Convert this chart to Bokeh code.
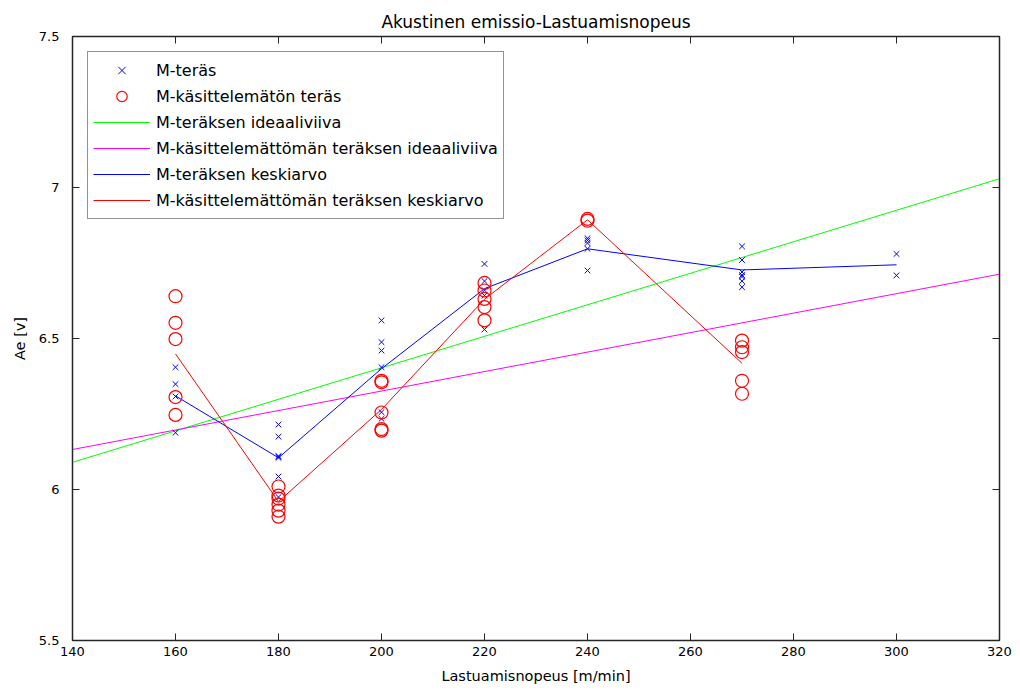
from bokeh.plotting import figure
from bokeh.models import Range1d, LinearAxis, FixedTicker, Legend, LegendItem, ColumnDataSource
from bokeh.embed import file_html
from bokeh.resources import INLINE

# ---- data ----
speeds = [160, 180, 200, 220, 240, 270, 300]

teras_160 = [6.405, 6.349, 6.308, 6.188]
teras_180 = [6.215, 6.175, 6.11, 6.105, 6.11, 6.043, 5.975]
teras_200 = [6.560, 6.488, 6.460, 6.405, 6.256, 6.234]
teras_220 = [6.747, 6.690, 6.660, 6.642, 6.530]
teras_240 = [6.832, 6.825, 6.816, 6.797, 6.725]
teras_270 = [6.805, 6.760, 6.720, 6.710, 6.705, 6.690, 6.670]
teras_300 = [6.780, 6.709]

kas_160 = [6.640, 6.552, 6.498, 6.306, 6.247]
kas_180 = [6.010, 5.980, 5.970, 5.950, 5.930, 5.910]
kas_200 = [6.360, 6.355, 6.255, 6.200, 6.195]
kas_220 = [6.684, 6.659, 6.631, 6.604, 6.560]
kas_240 = [6.896, 6.890]
kas_270 = [6.493, 6.471, 6.455, 6.360, 6.317]

teras_mean_x = [160, 180, 200, 220, 240, 270, 300]
teras_mean = [6.310, 6.105, 6.400, 6.665, 6.797, 6.727, 6.744]
kas_mean_x = [160, 180, 200, 220, 240, 270]
kas_mean = [6.449, 5.960, 6.265, 6.630, 6.893, 6.418]

ideal_x = [140, 320]
teras_ideal = [6.090, 7.029]
kas_ideal = [6.1325, 6.713]

x_ticks = [140, 160, 180, 200, 220, 240, 260, 280, 300, 320]
y_ticks = [5.5, 6, 6.5, 7, 7.5]

title_text = "Akustinen emissio-Lastuamisnopeus"
x_label = "Lastuamisnopeus [m/min]"
y_label = "Ae [v]"
legend_labels = ["M-teräs", "M-käsittelemätön teräs", "M-teräksen ideaaliviiva",
                 "M-käsittelemättömän teräksen ideaaliviiva",
                 "M-teräksen keskiarvo", "M-käsittelemättömän teräksen keskiarvo"]

# ---- build point lists ----
teras_groups = [teras_160, teras_180, teras_200, teras_220, teras_240, teras_270, teras_300]
kas_groups = [kas_160, kas_180, kas_200, kas_220, kas_240, kas_270]
tx, ty = [], []
for s, g in zip(speeds, teras_groups):
    tx += [s] * len(g)
    ty += g
kx, ky = [], []
for s, g in zip(speeds, kas_groups):
    kx += [s] * len(g)
    ky += g

t_src = ColumnDataSource(dict(x=tx, y=ty, c=["#0000ff"] * len(tx)))
k_src = ColumnDataSource(dict(x=kx, y=ky, c=["#ff0000"] * len(kx)))

FONT = "DejaVu Sans"
AX = "#262626"

p = figure(width=1012, height=688, output_backend="svg", toolbar_location=None,
           x_range=Range1d(140, 320), y_range=Range1d(5.5, 7.5),
           min_border_left=72, min_border_right=13, min_border_top=36,
           min_border_bottom=48)
p.background_fill_color = "white"
p.border_fill_color = "white"
p.outline_line_color = AX
p.outline_line_width = 1.5
p.grid.visible = False

p.title.text = title_text
p.title.align = "center"
p.title.text_font = FONT
p.title.text_font_size = "17px"
p.title.text_font_style = "normal"
p.title.text_color = "black"

for ax in (p.xaxis[0], p.yaxis[0]):
    ax.axis_line_color = AX
    ax.major_tick_line_color = AX
    ax.major_tick_in = 7
    ax.major_tick_out = 0
    ax.minor_tick_line_color = None
    ax.major_label_text_font = FONT
    ax.major_label_text_font_size = "13px"
    ax.major_label_text_color = "black"
    ax.axis_label_text_font = FONT
    ax.axis_label_text_font_size = "14.5px"
    ax.axis_label_text_font_style = "normal"
    ax.axis_label_text_color = "black"

p.xaxis[0].ticker = FixedTicker(ticks=x_ticks)
p.yaxis[0].ticker = FixedTicker(ticks=y_ticks)
p.xaxis[0].axis_label = x_label
p.yaxis[0].axis_label = y_label
p.xaxis[0].major_label_standoff = 6
p.xaxis[0].axis_label_standoff = 9
p.yaxis[0].major_label_standoff = 13
p.yaxis[0].axis_label_standoff = 8

# mirrored tick-only axes on top and right (MATLAB box style)
top_ax = LinearAxis(ticker=FixedTicker(ticks=x_ticks),
                    major_label_text_color=None,
                    major_tick_in=7, major_tick_out=0, minor_tick_line_color=None,
                    axis_line_color=AX, major_tick_line_color=AX)
right_ax = LinearAxis(ticker=FixedTicker(ticks=y_ticks),
                      major_label_text_color=None,
                      major_tick_in=7, major_tick_out=0, minor_tick_line_color=None,
                      axis_line_color=AX, major_tick_line_color=AX)
p.add_layout(top_ax, "above")
p.add_layout(right_ax, "right")

g_ideal_t = p.line(ideal_x, teras_ideal, line_color="#00ff00", line_width=1)
g_ideal_k = p.line(ideal_x, kas_ideal, line_color="#ff00ff", line_width=1)
g_mean_t = p.line(teras_mean_x, teras_mean, line_color="#0000ff", line_width=1)
g_mean_k = p.line(kas_mean_x, kas_mean, line_color="#ff0000", line_width=1)
g_t = p.scatter("x", "y", source=t_src, marker="x", size=8, line_color="c",
                fill_color=None, fill_alpha=0, line_width=1)
g_k = p.scatter("x", "y", source=k_src, marker="circle", size=13, fill_color=None,
                fill_alpha=0, line_color="c", line_width=1.2)

ROW_H = 26
legend = Legend(items=[
    LegendItem(label=legend_labels[0], renderers=[g_t]),
    LegendItem(label=legend_labels[1], renderers=[g_k]),
    LegendItem(label=legend_labels[2], renderers=[g_ideal_t]),
    LegendItem(label=legend_labels[3], renderers=[g_ideal_k]),
    LegendItem(label=legend_labels[4], renderers=[g_mean_t]),
    LegendItem(label=legend_labels[5], renderers=[g_mean_k]),
], location="top_left")
legend.margin = 15
legend.padding = 5
legend.spacing = 0
legend.glyph_width = 57
legend.glyph_height = ROW_H
legend.label_height = ROW_H
legend.label_standoff = 6
legend.label_text_font = FONT
legend.label_text_font_size = "16px"
legend.label_text_color = "black"
legend.border_line_color = AX
legend.border_line_width = 1
legend.background_fill_color = "white"
legend.background_fill_alpha = 1
p.add_layout(legend)

open("out.html", "w").write(file_html(p, INLINE))
